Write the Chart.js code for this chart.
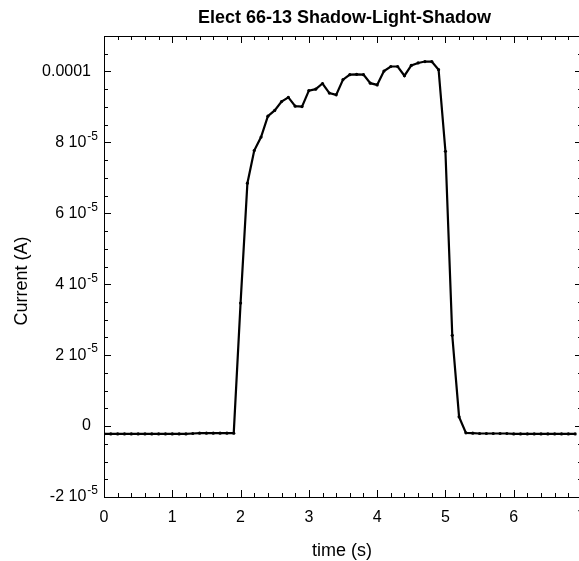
<!DOCTYPE html>
<html><head><meta charset="utf-8">
<script src="https://cdn.jsdelivr.net/npm/chart.js@4.4.1/dist/chart.umd.min.js"></script>
<style>html,body{margin:0;padding:0;overflow:hidden;background:#fff}canvas{display:block}</style>
</head><body>
<canvas id="c" width="600" height="561" style="width:600px;height:561px"></canvas>
<script>
const timeS = [0.0,0.1,0.2,0.3,0.4,0.5,0.6,0.7,0.8,0.9,1.0,1.1,1.2,1.3,1.4,1.5,1.6,1.7,1.8,1.9,
  2.0,2.1,2.2,2.3,2.4,2.5,2.6,2.7,2.8,2.9,3.0,3.1,3.2,3.3,3.4,3.5,3.6,3.7,3.8,3.9,
  4.0,4.1,4.2,4.3,4.4,4.5,4.6,4.7,4.8,4.9,5.0,5.1,5.2,5.3,5.4,5.5,5.6,5.7,5.8,5.9,
  6.0,6.1,6.2,6.3,6.4,6.5,6.6,6.7,6.8,6.9];
const currentA = [-2.2e-6,-2.2e-6,-2.2e-6,-2.2e-6,-2.2e-6,-2.2e-6,-2.2e-6,-2.2e-6,-2.2e-6,-2.2e-6,
  -2.2e-6,-2.2e-6,-2.2e-6,-2.1e-6,-2.0e-6,-2.0e-6,-2.0e-6,-2.0e-6,-2.0e-6,-2.0e-6,
  34.7e-6,68.5e-6,77.7e-6,81.5e-6,87.4e-6,89.0e-6,91.5e-6,92.7e-6,90.2e-6,90.1e-6,
  94.6e-6,95.0e-6,96.6e-6,93.9e-6,93.4e-6,97.7e-6,99.1e-6,99.2e-6,99.1e-6,96.7e-6,
  96.2e-6,100.1e-6,101.4e-6,101.4e-6,98.8e-6,101.7e-6,102.4e-6,102.8e-6,102.8e-6,100.5e-6,
  77.5e-6,25.6e-6,2.6e-6,-1.9e-6,-2.0e-6,-2.1e-6,-2.1e-6,-2.1e-6,-2.1e-6,-2.1e-6,
  -2.2e-6,-2.2e-6,-2.2e-6,-2.2e-6,-2.2e-6,-2.2e-6,-2.2e-6,-2.2e-6,-2.2e-6,-2.2e-6];
const xTickValues = [0,1,2,3,4,5,6,7];
const xTickLabels = ['0','1','2','3','4','5','6','7'];
const yTickValues = [-2e-5,0,2e-5,4e-5,6e-5,8e-5,1e-4];
const yTickText = ['-2 10','0','2 10','4 10','6 10','8 10','0.0001'];
const yTickExp = ['-5','','-5','-5','-5','-5',''];
const chartTitle = 'Elect 66-13 Shadow-Light-Shadow';
const xTitle = 'time (s)';
const yTitle = 'Current (A)';

const FONT = "'Liberation Sans', Arial, Helvetica, sans-serif";

const framePlugin = {
  id: 'frame',
  afterDraw(chart) {
    const ctx = chart.ctx, a = chart.chartArea;
    const xs = chart.scales.x, ys = chart.scales.y;
    ctx.save();
    ctx.strokeStyle = '#000';
    ctx.lineWidth = 1;
    ctx.strokeRect(Math.round(a.left) + 0.5, Math.round(a.top) + 0.5,
      Math.round(a.right - a.left), Math.round(a.bottom - a.top));
    ctx.beginPath();
    for (let i = 0; i <= 35; i++) {
      const v = i * 0.2;
      const px = Math.round(xs.getPixelForValue(v)) + 0.5;
      const len = (i % 5 === 0) ? 7 : 4;
      ctx.moveTo(px, a.bottom); ctx.lineTo(px, a.bottom - len);
      ctx.moveTo(px, a.top); ctx.lineTo(px, a.top + len);
    }
    for (let i = 0; i <= 26; i++) {
      const v = -2e-5 + i * 5e-6;
      const py = Math.round(ys.getPixelForValue(v)) + 0.5;
      const len = (i % 4 === 0) ? 7 : 4;
      ctx.moveTo(a.left, py); ctx.lineTo(a.left + len, py);
      ctx.moveTo(a.right, py); ctx.lineTo(a.right - len, py);
    }
    ctx.stroke();

    ctx.fillStyle = '#000';
    ctx.font = '16px ' + FONT;
    ctx.textAlign = 'center';
    ctx.textBaseline = 'middle';
    xTickValues.forEach((v, i) => {
      ctx.fillText(xTickLabels[i], xs.getPixelForValue(v), a.bottom + 21);
    });
    yTickValues.forEach((v, i) => {
      const py = ys.getPixelForValue(v);
      ctx.textBaseline = 'middle';
      ctx.textAlign = 'right';
      if (yTickExp[i]) {
        ctx.font = '12px ' + FONT;
        const ew = ctx.measureText(yTickExp[i]).width;
        ctx.fillText(yTickExp[i], 98, py - 6);
        ctx.font = '16px ' + FONT;
        ctx.fillText(yTickText[i], 98 - ew - 1, py);
      } else {
        ctx.font = '16px ' + FONT;
        ctx.fillText(yTickText[i], 91, py);
      }
    });
    ctx.font = 'bold 18px ' + FONT;
    ctx.textAlign = 'center';
    ctx.textBaseline = 'middle';
    ctx.fillText(chartTitle, 344.5, 18);
    ctx.font = '18px ' + FONT;
    ctx.fillText(xTitle, 342, 551);
    ctx.save();
    ctx.translate(22, 281);
    ctx.rotate(-Math.PI / 2);
    ctx.fillText(yTitle, 0, 0);
    ctx.restore();
    ctx.restore();
  }
};

new Chart(document.getElementById('c'), {
  type: 'line',
  data: {
    datasets: [{
      data: timeS.map((t, i) => ({ x: t, y: currentA[i] })),
      borderColor: '#000',
      backgroundColor: '#000',
      borderWidth: 2.2,
      pointRadius: 1.6,
      pointBorderWidth: 0,
      pointBackgroundColor: '#000',
      tension: 0,
      fill: false
    }]
  },
  options: {
    responsive: false,
    animation: false,
    events: [],
    layout: { padding: { left: 104, right: 18, top: 36, bottom: 64 } },
    plugins: { legend: { display: false }, title: { display: false }, tooltip: { enabled: false } },
    scales: {
      x: { type: 'linear', min: 0, max: 7, display: false },
      y: { type: 'linear', min: -2e-5, max: 1.1e-4, display: false }
    }
  },
  plugins: [framePlugin]
});
</script>
</body></html>
